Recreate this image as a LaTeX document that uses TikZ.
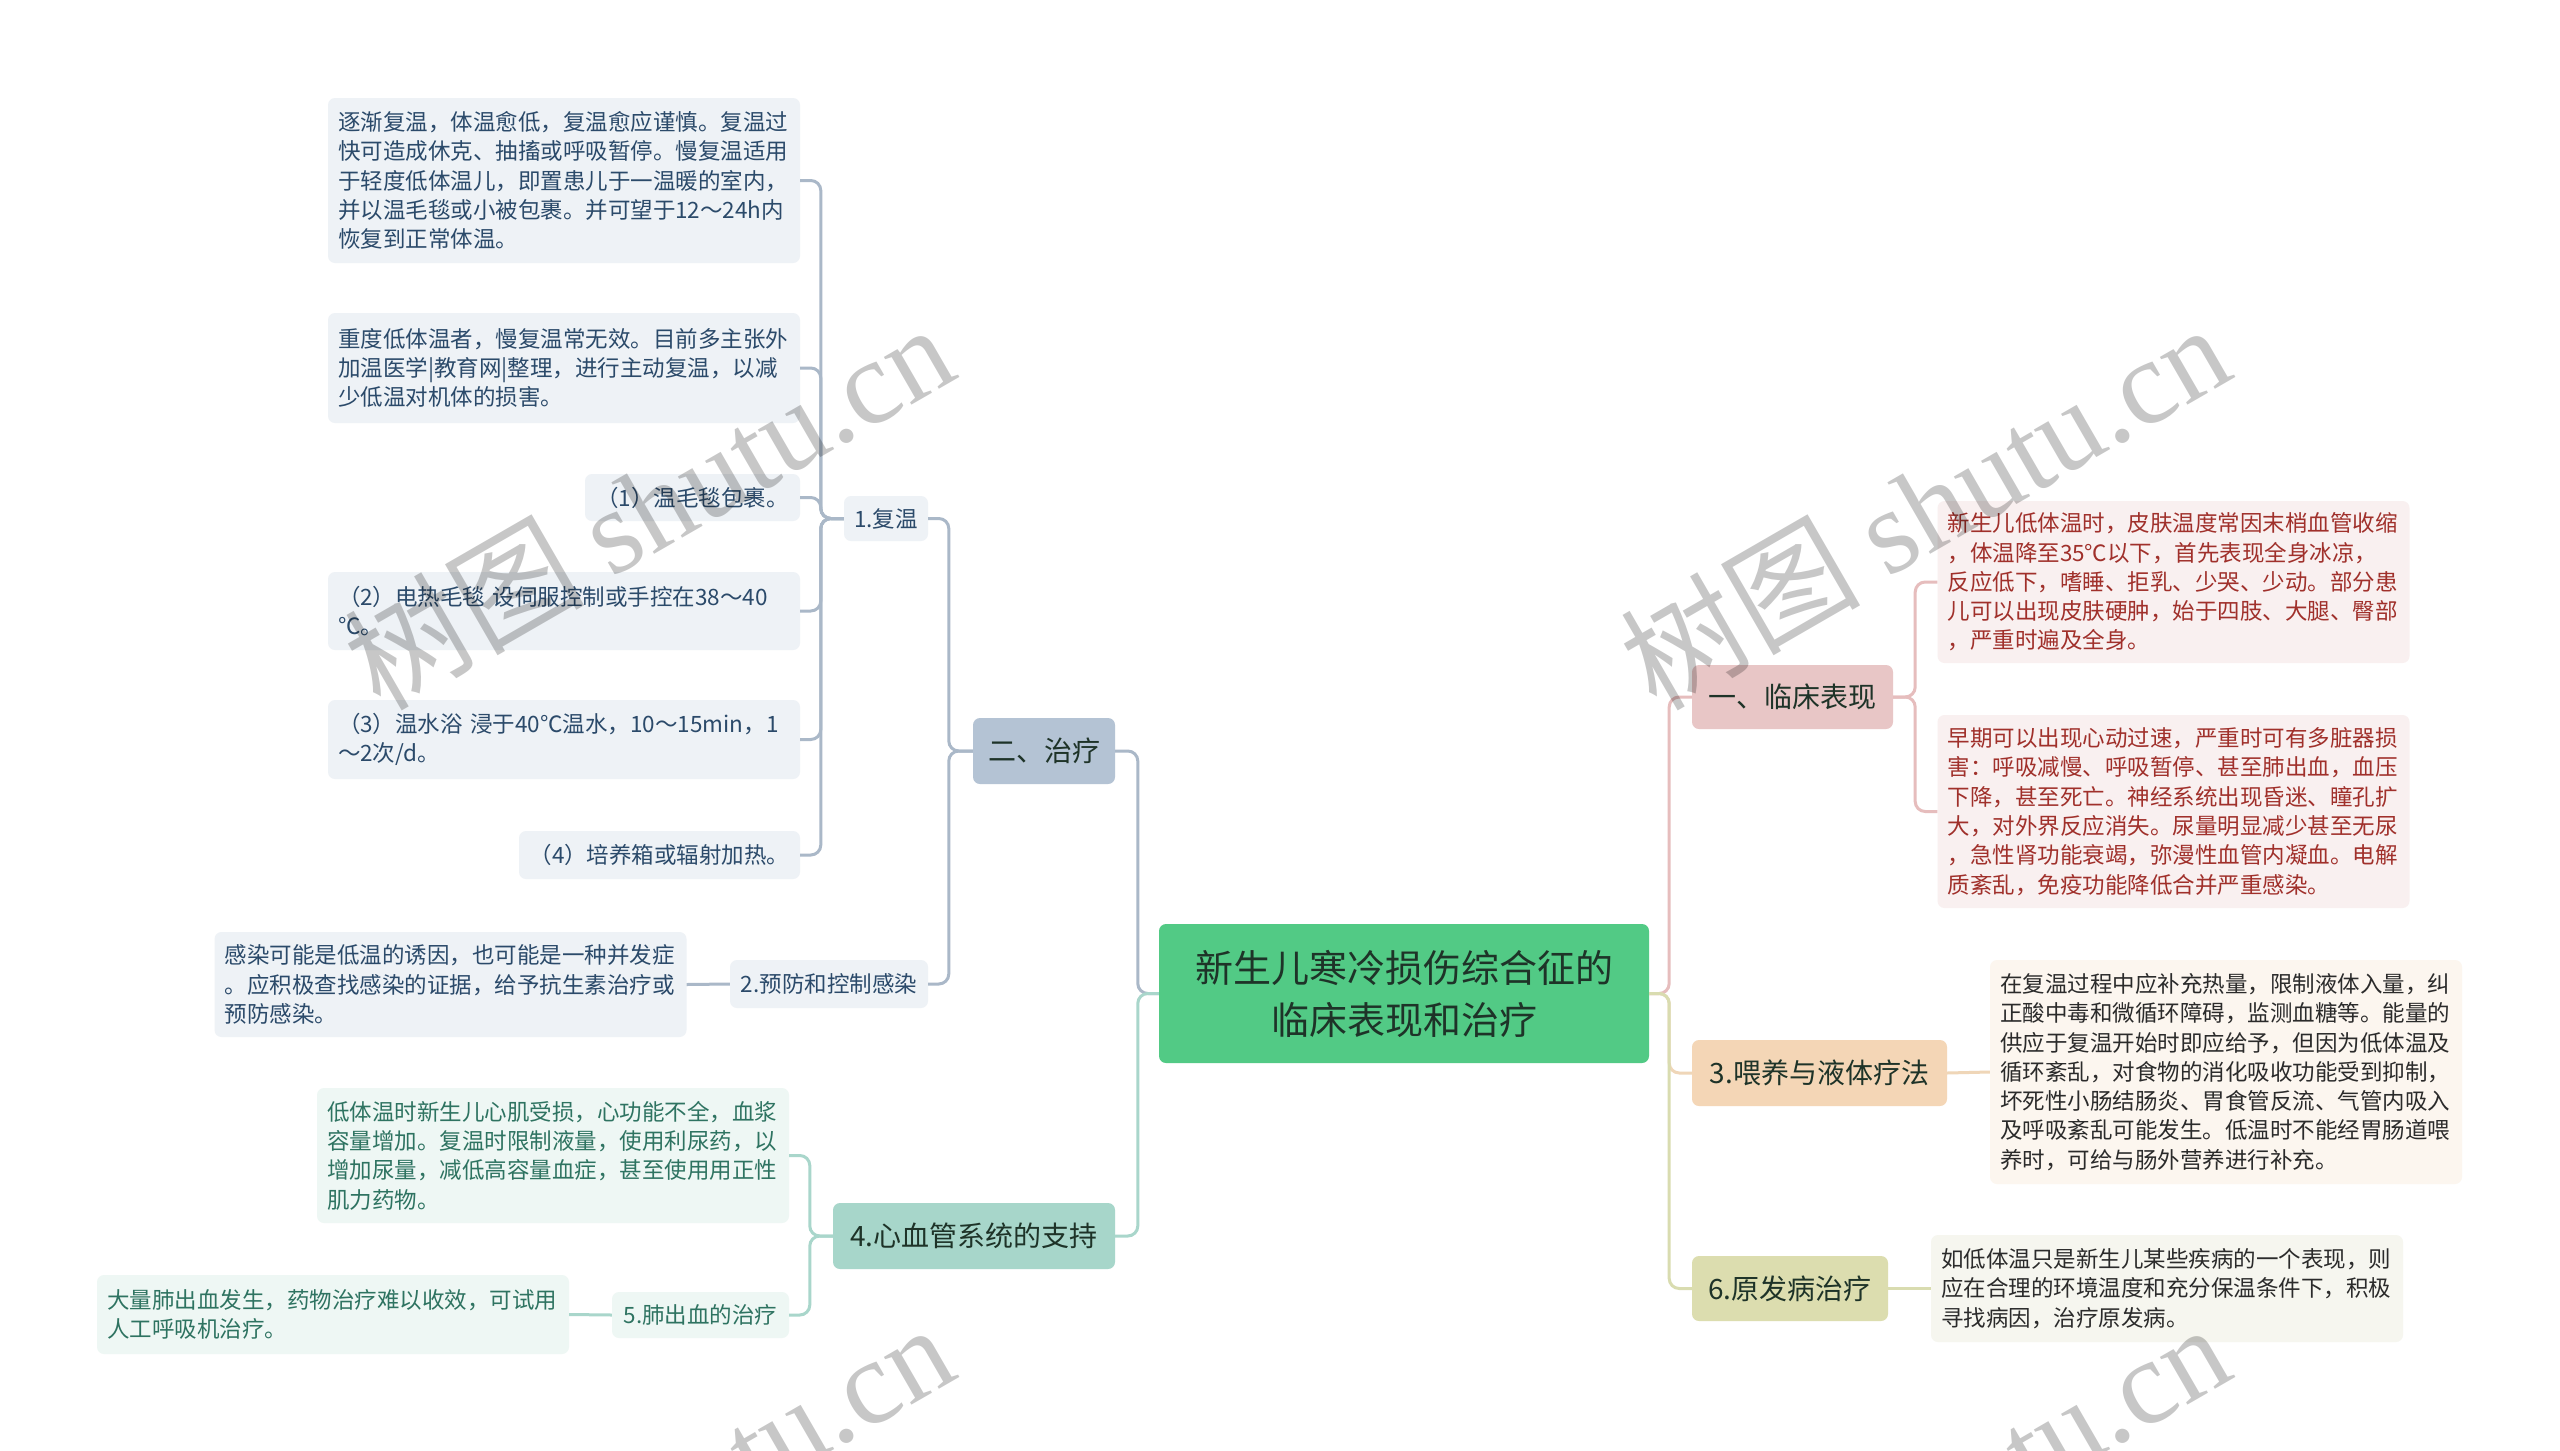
\documentclass[tikz,border=0pt]{standalone}
\usepackage{fontspec}
\setmainfont{Noto Sans CJK SC}
\newfontfamily\cjk{Noto Sans CJK SC}
\newfontfamily\wmfont{Liberation Serif}
\usetikzlibrary{calc}
\definecolor{rootFill}{RGB}{82,202,133}
\definecolor{rootText}{RGB}{30,51,40}
\definecolor{bFill}{RGB}{180,195,212}
\definecolor{bLine}{RGB}{170,184,200}
\definecolor{bLeaf}{RGB}{238,242,246}
\definecolor{bText}{RGB}{43,74,106}
\definecolor{tFill}{RGB}{167,214,202}
\definecolor{tLine}{RGB}{169,214,203}
\definecolor{tLeaf}{RGB}{238,247,244}
\definecolor{tText}{RGB}{46,115,97}
\definecolor{pFill}{RGB}{232,198,198}
\definecolor{pLine}{RGB}{230,189,189}
\definecolor{pLeaf}{RGB}{249,240,240}
\definecolor{pText}{RGB}{160,48,43}
\definecolor{oFill}{RGB}{244,214,182}
\definecolor{oLine}{RGB}{239,214,184}
\definecolor{oLeaf}{RGB}{252,246,239}
\definecolor{kFill}{RGB}{220,221,175}
\definecolor{kLine}{RGB}{217,220,176}
\definecolor{kLeaf}{RGB}{246,246,239}
\definecolor{dText}{RGB}{43,43,43}
\tikzset{
  box/.style={rounded corners=7pt, inner sep=0pt, align=center},
  leaf/.style={box, align=left, text width=452pt, inner xsep=10pt, font=\fontsize{22.5}{29.3}\selectfont},
  small/.style={box, font=\fontsize{22.5}{29.3}\selectfont},
  mid/.style={box, font=\fontsize{28}{34}\selectfont},
  conn/.style={line width=3pt, rounded corners=10pt},
  cB/.style={conn, draw=bLine},
  cT/.style={conn, draw=tLine},
  cP/.style={conn, draw=pLine},
  cO/.style={conn, draw=oLine},
  cK/.style={conn, draw=kLine},
  wm/.style={rotate=30, text=black, text opacity=0.22, font=\fontsize{120}{130}\selectfont}
}
\begin{document}
\begin{tikzpicture}[x=1pt,y=-1pt]
\useasboundingbox (0,0) rectangle (2560,1451);
\fill[white] (0,0) rectangle (2560,1451);

% root
\node[box, fill=rootFill, text=rootText, minimum width=490, minimum height=139,
  font=\fontsize{38}{52}\selectfont] (root) at (1404,993.5) {新生儿寒冷损伤综合征的\\临床表现和治疗};

% left branch: treatment
\node[mid, fill=bFill, text=rootText, minimum width=142, minimum height=66] (n2) at (1044,751) {二、治疗};
\node[small, fill=bLeaf, text=bText, minimum width=84, minimum height=45] (n1) at (886,518.5) {1.复温};
\node[small, fill=bLeaf, text=bText, minimum width=198, minimum height=48] (p2) at (829,984) {2.预防和控制感染};

\node[leaf, fill=bLeaf, text=bText, minimum height=165] (A) at (564,180.5) {逐渐复温，体温愈低，复温愈应谨慎。复温过\\快可造成休克、抽搐或呼吸暂停。慢复温适用\\于轻度低体温儿，即置患儿于一温暖的室内，\\并以温毛毯或小被包裹。并可望于12～24h内\\恢复到正常体温。};
\node[leaf, fill=bLeaf, text=bText, minimum height=110] (B) at (564,368) {重度低体温者，慢复温常无效。目前多主张外\\加温医学|教育网|整理，进行主动复温，以减\\少低温对机体的损害。};
\node[small, fill=bLeaf, text=bText, minimum width=215, minimum height=47] (c1) at (692.5,497.5) {（1）温毛毯包裹。};
\node[leaf, fill=bLeaf, text=bText, minimum height=78] (c2) at (564,611) {（2）电热毛毯 设伺服控制或手控在38～40\\℃。};
\node[leaf, fill=bLeaf, text=bText, minimum height=79] (c3) at (564,739.5) {（3）温水浴 浸于40℃温水，10～15min，1\\～2次/d。};
\node[small, fill=bLeaf, text=bText, minimum width=281, minimum height=48] (c4) at (659.5,855) {（4）培养箱或辐射加热。};

\node[leaf, fill=bLeaf, text=bText, minimum height=105] (L2) at (450.5,984.5) {感染可能是低温的诱因，也可能是一种并发症\\。应积极查找感染的证据，给予抗生素治疗或\\预防感染。};

% left branch: cardio
\node[mid, fill=tFill, text=rootText, minimum width=282, minimum height=66] (n4) at (974,1236) {4.心血管系统的支持};
\node[leaf, fill=tLeaf, text=tText, minimum height=135] (L4) at (553,1155.5) {低体温时新生儿心肌受损，心功能不全，血浆\\容量增加。复温时限制液量，使用利尿药，以\\增加尿量，减低高容量血症，甚至使用用正性\\肌力药物。};
\node[small, fill=tLeaf, text=tText, minimum width=177, minimum height=46] (n5) at (700.5,1315) {5.肺出血的治疗};
\node[leaf, fill=tLeaf, text=tText, minimum height=79] (L5) at (333,1314.5) {大量肺出血发生，药物治疗难以收效，可试用\\人工呼吸机治疗。};

% right branch
\node[mid, fill=pFill, text=rootText, minimum width=201, minimum height=64] (r1) at (1792.5,697) {一、临床表现};
\node[leaf, fill=pLeaf, text=pText, minimum height=162] (R1) at (2173.5,582) {新生儿低体温时，皮肤温度常因末梢血管收缩\\，体温降至35℃以下，首先表现全身冰凉，\\反应低下，嗜睡、拒乳、少哭、少动。部分患\\儿可以出现皮肤硬肿，始于四肢、大腿、臀部\\，严重时遍及全身。};
\node[leaf, fill=pLeaf, text=pText, minimum height=193] (R2) at (2173.5,811.5) {早期可以出现心动过速，严重时可有多脏器损\\害：呼吸减慢、呼吸暂停、甚至肺出血，血压\\下降，甚至死亡。神经系统出现昏迷、瞳孔扩\\大，对外界反应消失。尿量明显减少甚至无尿\\，急性肾功能衰竭，弥漫性血管内凝血。电解\\质紊乱，免疫功能降低合并严重感染。};

\node[mid, fill=oFill, text=rootText, minimum width=255, minimum height=66] (r3) at (1819.5,1073) {3.喂养与液体疗法};
\node[leaf, fill=oLeaf, text=dText, minimum height=224] (L3) at (2226,1072) {在复温过程中应补充热量，限制液体入量，纠\\正酸中毒和微循环障碍，监测血糖等。能量的\\供应于复温开始时即应给予，但因为低体温及\\循环紊乱，对食物的消化吸收功能受到抑制，\\坏死性小肠结肠炎、胃食管反流、气管内吸入\\及呼吸紊乱可能发生。低温时不能经胃肠道喂\\养时，可给与肠外营养进行补充。};

\node[mid, fill=kFill, text=rootText, minimum width=196, minimum height=65] (r6) at (1790,1288.5) {6.原发病治疗};
\node[leaf, fill=kLeaf, text=dText, minimum height=107] (L6) at (2167,1288.5) {如低体温只是新生儿某些疾病的一个表现，则\\应在合理的环境温度和充分保温条件下，积极\\寻找病因，治疗原发病。};

% connectors left
\draw[cB] (root.west) -- ++(-21,0) |- (n2.east);
\draw[cT] (root.west) -- ++(-21,0) |- (n4.east);
\draw[cB] (n2.west) -- ++(-24,0) |- (n1.east);
\draw[cB] (n2.west) -- ++(-24,0) |- (p2.east);
\foreach \c in {A,B,c1,c2,c3,c4} {
  \draw[cB] (n1.west) -- ++(-23,0) |- (\c.east);
}
\draw[cB] (p2.west) -- (L2.east);
\draw[cT] (n4.west) -- ++(-23,0) |- (L4.east);
\draw[cT] (n4.west) -- ++(-23,0) |- (n5.east);
\draw[cT] (n5.west) -- (L5.east);

% connectors right
\draw[cP] (root.east) -- ++(20,0) |- (r1.west);
\draw[cO] (root.east) -- ++(20,0) |- (r3.west);
\draw[cK] (root.east) -- ++(20,0) |- (r6.west);
\draw[cP] (r1.east) -- ++(22,0) |- (R1.west);
\draw[cP] (r1.east) -- ++(22,0) |- (R2.west);
\draw[cO] (r3.east) -- (L3.west);
\draw[cK] (r6.east) -- (L6.west);

% watermarks
\begin{scope}
\clip (0,0) rectangle (2560,1451);
\node[wm] (w1) at (648,505) {{\cjk 树图} {\wmfont shutu.cn}};
\node[wm] (w2) at (1924,505) {{\cjk 树图} {\wmfont shutu.cn}};
\node[wm] (w3) at (648,1505) {{\cjk 树图} {\wmfont shutu.cn}};
\node[wm] (w4) at (1924,1505) {{\cjk 树图} {\wmfont shutu.cn}};
\end{scope}
\end{tikzpicture}
\end{document}
